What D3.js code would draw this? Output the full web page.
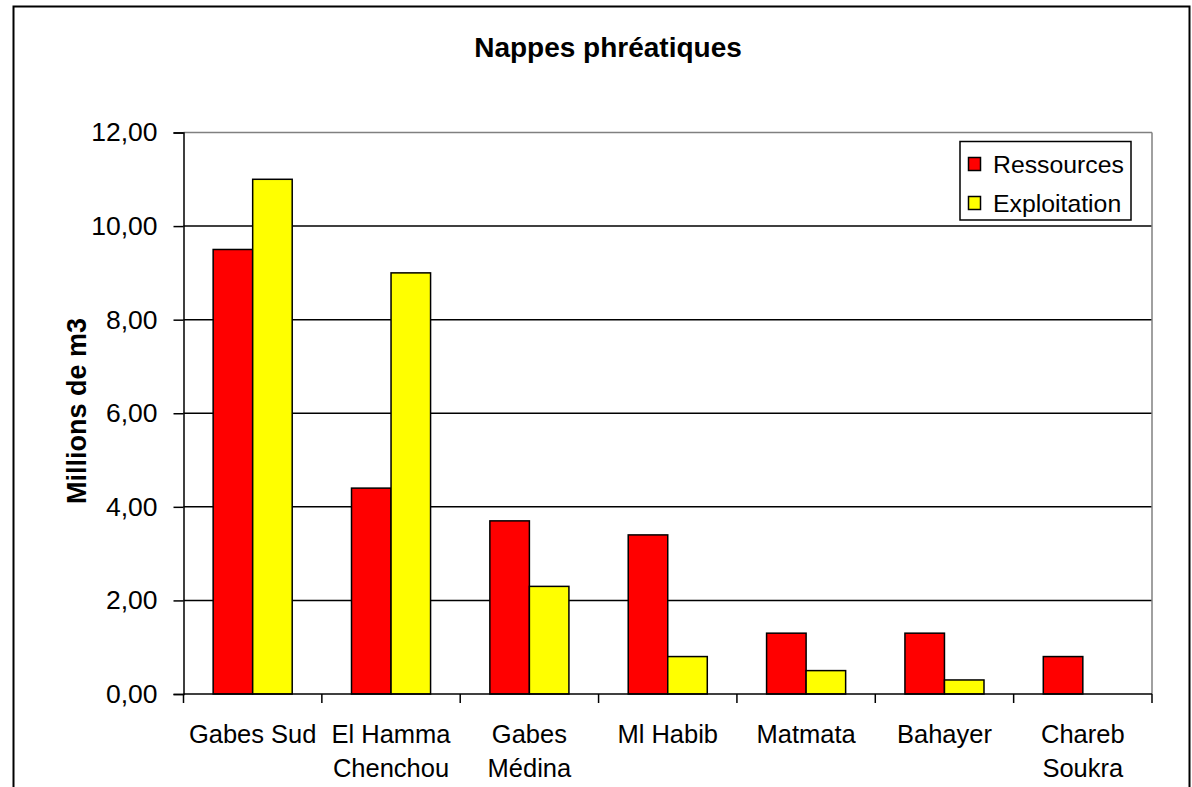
<!DOCTYPE html>
<html>
<head>
<meta charset="utf-8">
<script src="https://cdn.jsdelivr.net/npm/d3@7"></script>
<style>
  html, body { margin: 0; padding: 0; background: #fff; }
  svg { display: block; }
  text { font-family: "Liberation Sans", Arial, sans-serif; fill: #000; }
</style>
</head>
<body>
<svg id="chart" width="1192" height="787"></svg>
<script>
const categories = [["Gabes Sud"], ["El Hamma", "Chenchou"], ["Gabes", "Médina"], ["Ml Habib"], ["Matmata"], ["Bahayer"], ["Chareb", "Soukra"]];
const seriesNames = ["Ressources", "Exploitation"];
const ressources = [9.5, 4.4, 3.7, 3.4, 1.3, 1.3, 0.8];
const exploitation = [11.0, 9.0, 2.3, 0.8, 0.5, 0.3, null];
const seriesColors = ["#FF0000", "#FFFF00"];
const yTicks = [0, 2, 4, 6, 8, 10, 12];
const title = "Nappes phréatiques";
const yLabel = "Millions de m3";

const svg = d3.select("#chart");
const W = 1192, H = 787;
const plot = { left: 183.5, right: 1152, top: 132.5, bottom: 694 };

// chart background + outer border
svg.append("rect").attr("x", 0).attr("y", 0).attr("width", W).attr("height", H).attr("fill", "#fff");
svg.append("rect").attr("x", 13.5).attr("y", 6.5).attr("width", 1176).attr("height", 820)
  .attr("fill", "none").attr("stroke", "#000").attr("stroke-width", 2);

const catKeys = categories.map((c, i) => i);
const x0 = d3.scaleBand().domain(catKeys).range([plot.left, plot.right]).paddingInner(0).paddingOuter(0);
const x1 = d3.scaleBand().domain(seriesNames).range([0, x0.bandwidth()]).paddingInner(0).paddingOuter(0.75);
const y = d3.scaleLinear().domain([0, 12]).range([plot.bottom, plot.top]);

// gridlines
svg.append("g").selectAll("line").data(yTicks.filter(t => t > 0 && t < 12)).join("line")
  .attr("x1", plot.left).attr("x2", plot.right)
  .attr("y1", d => y(d)).attr("y2", d => y(d))
  .attr("stroke", "#000").attr("stroke-width", 1.5);

// plot border top/right (gray)
svg.append("line").attr("x1", plot.left).attr("x2", plot.right).attr("y1", y(12)).attr("y2", y(12))
  .attr("stroke", "#808080").attr("stroke-width", 1.5);
svg.append("line").attr("x1", plot.right).attr("x2", plot.right).attr("y1", y(12)).attr("y2", y(0))
  .attr("stroke", "#808080").attr("stroke-width", 1.5);

// bars
const rows = catKeys.map(i => ({ i, vals: [ressources[i], exploitation[i]] }));
const groups = svg.append("g").selectAll("g").data(rows).join("g")
  .attr("transform", d => `translate(${x0(d.i)},0)`);
groups.selectAll("rect")
  .data(d => d.vals.map((v, k) => ({ k, v })).filter(e => e.v != null && e.v > 0))
  .join("rect")
  .attr("x", e => x1(seriesNames[e.k]))
  .attr("width", x1.bandwidth())
  .attr("y", e => y(e.v))
  .attr("height", e => y(0) - y(e.v))
  .attr("fill", e => seriesColors[e.k])
  .attr("stroke", "#000").attr("stroke-width", 1.5);

// y axis
const yAxis = d3.axisLeft(y).tickValues(yTicks).tickSize(10).tickPadding(16)
  .tickFormat(d => d3.format(".2f")(d).replace(".", ","));
const gy = svg.append("g").attr("transform", `translate(${plot.left},0)`).call(yAxis);
gy.select(".domain").attr("stroke", "#000").attr("stroke-width", 1.5);
gy.selectAll(".tick line").attr("stroke", "#000").attr("stroke-width", 1.5);
gy.selectAll(".tick text").attr("font-size", 26.5).attr("fill", "#000")
  .style("font-family", '"Liberation Sans", Arial, sans-serif');

// x axis: boundary ticks
const bounds = catKeys.map(i => x0(i)).concat([plot.right]);
svg.append("line").attr("x1", plot.left).attr("x2", plot.right).attr("y1", y(0)).attr("y2", y(0))
  .attr("stroke", "#000").attr("stroke-width", 1.5);
svg.append("g").selectAll("line").data(bounds).join("line")
  .attr("x1", d => d).attr("x2", d => d).attr("y1", y(0)).attr("y2", y(0) + 9)
  .attr("stroke", "#000").attr("stroke-width", 1.5);

// category labels
const labels = svg.append("g").selectAll("text").data(rows).join("text")
  .attr("text-anchor", "middle").attr("font-size", 25.5)
  .attr("x", d => x0(d.i) + x0.bandwidth() / 2);
labels.selectAll("tspan").data(d => categories[d.i].map((t, j) => ({ t, j, x: x0(d.i) + x0.bandwidth() / 2 })))
  .join("tspan").attr("x", e => e.x).attr("y", e => 742.5 + e.j * 34).text(e => e.t);

// title
svg.append("text").attr("x", 608).attr("y", 57).attr("text-anchor", "middle")
  .attr("font-size", 28).attr("font-weight", "bold").text(title);

// y label
svg.append("text").attr("transform", "translate(86,411) rotate(-90)")
  .attr("text-anchor", "middle").attr("font-size", 27).attr("font-weight", "bold").text(yLabel);

// legend
const lg = svg.append("g");
lg.append("rect").attr("x", 960).attr("y", 141.5).attr("width", 171).attr("height", 78.5)
  .attr("fill", "#fff").attr("stroke", "#000").attr("stroke-width", 1.5);
const legRows = [164, 203];
lg.selectAll("rect.sw").data(seriesNames).join("rect").attr("class", "sw")
  .attr("x", 968.5).attr("y", (d, i) => legRows[i] - 6.5).attr("width", 12).attr("height", 13)
  .attr("fill", (d, i) => seriesColors[i]).attr("stroke", "#000").attr("stroke-width", 1.5);
lg.selectAll("text").data(seriesNames).join("text")
  .attr("x", 993).attr("y", (d, i) => legRows[i] + 8.5).attr("font-size", 24.8).text(d => d);
</script>
</body>
</html>
